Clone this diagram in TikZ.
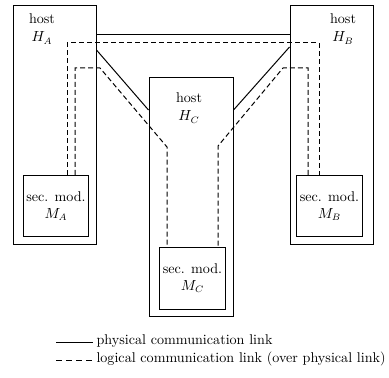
\documentclass[tikz,border=0pt]{standalone}
\usepackage{tikz}

\tikzset{every picture/.style={line width=0.75pt}}

\begin{document}
\begin{tikzpicture}[
            x=0.75pt,
            y=0.75pt,
            yscale=-1,
            xscale=1,
            every node/.style={text=black, font=\fontsize{10.6}{12.7}\selectfont},
            line width=0.75pt,
            host/.style={draw, rectangle, minimum width=62.25pt, minimum height=178.5pt, inner sep=0pt},
            secmod/.style={draw, rectangle, minimum width=49pt, minimum height=46pt, inner sep=0pt, align=center},
            hostlabel/.style={inner sep=0.75pt, align=center},
            logical/.style={dash pattern=on 3.75pt off 2.25pt}
        ]
            \useasboundingbox (0,0) rectangle (389,378);

            % hosts
            \node [host] (hA) at (54.5,125) {};
            \node [host] (hB) at (331.5,125) {};
            \node [host, minimum width=63pt] (hC) at (191,197) {};
            \node [hostlabel] (lA) at (42,29) {host\\[1pt] $H_A$};
            \node [hostlabel] (lB) at (343,29) {host\\[1pt] $H_B$};
            \node [hostlabel] (lC) at (189,108) {host\\[1pt] $H_C$};

            % security modules
            \node [secmod] (mA) at (56,206) {sec. mod.\\ $M_A$};
            \node [secmod] (mB) at (329.5,206) {sec. mod.\\ $M_B$};
            \node [secmod] (mC) at (192.5,278.5) {sec. mod.\\ $M_C$};

            % physical links
            \draw (hA.east |- 0,35) -- (hB.west |- 0,35) ;
            \draw (hA.east |- 0,50) -- (hC.west |- 0,110) ;
            \draw (hB.west |- 0,47) -- (hC.east |- 0,110) ;

            % logical links
            \draw [logical] (mA.north -| 67,0) -- (67,43) -- (319,43) -- (mB.north -| 319,0) ;
            \draw [logical] (mA.north -| 75,0) -- (75,68) -- (100,68) -- (167,147) -- (mC.north -| 167,0) ;
            \draw [logical] (mB.north -| 308,0) -- (308,68) -- (283,68) -- (218,146) -- (mC.north -| 218,0) ;

            % legend
            \node [anchor=west, inner sep=0.75pt] (phys) at (95,341) {physical communication link};
            \node [anchor=west, inner sep=0.75pt] (logi) at (95,359) {logical communication link (over physical link)};
            \draw (56,342) -- ([xshift=-1.5pt]phys.west |- 0,342) ;
            \draw [dash pattern=on 4.5pt off 3pt] (56,360) -- ([xshift=-1.5pt]logi.west |- 0,360) ;
        \end{tikzpicture}
\end{document}
